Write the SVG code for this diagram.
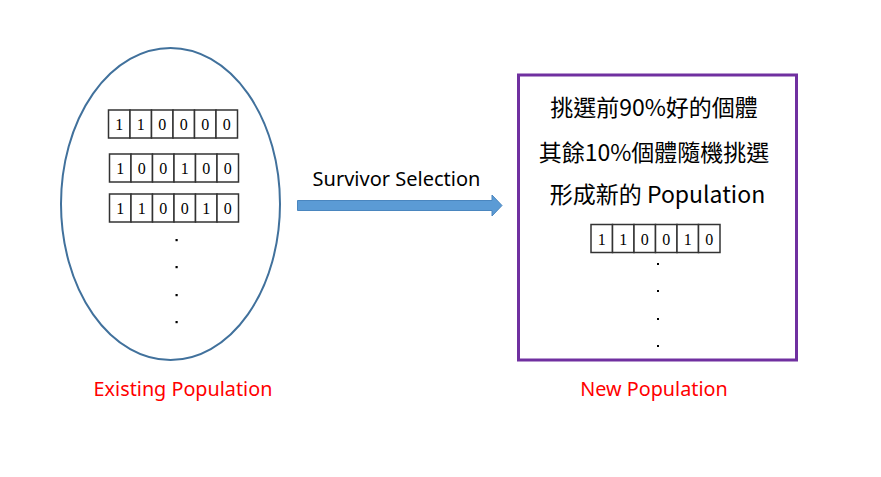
<svg xmlns="http://www.w3.org/2000/svg" width="881" height="477" viewBox="0 0 881 477">
<style>
.cell{fill:#fff;stroke:#333;stroke-width:1.5}
.bit{font-family:"Liberation Serif",serif;font-size:16px;fill:#000;text-anchor:middle}
.dot{fill:#000}
.lbl{font-family:"Noto Sans","Open Sans",sans-serif;font-size:19.8px;fill:#ff0000;text-anchor:middle}
.cjk{font-family:"Noto Sans CJK TC","Noto Sans",sans-serif;font-size:23px;fill:#000;text-anchor:middle}
</style>
<defs>
<g id="cells">
<rect class="cell" x="0" y="0" width="21.5" height="28"/>
<rect class="cell" x="21.5" y="0" width="21.5" height="28"/>
<rect class="cell" x="43" y="0" width="21.5" height="28"/>
<rect class="cell" x="64.5" y="0" width="21.5" height="28"/>
<rect class="cell" x="86" y="0" width="21.5" height="28"/>
<rect class="cell" x="107.5" y="0" width="21.5" height="28"/>
</g>
</defs>
<rect width="881" height="477" fill="#fff"/>
<g id="existing">
<ellipse cx="170.5" cy="204" rx="109.5" ry="156" fill="#fff" stroke="#41719c" stroke-width="2"/>
<g transform="translate(108.5,110)">
<use href="#cells"/>
<text class="bit" y="20"><tspan x="10.75">1</tspan><tspan x="32.25">1</tspan><tspan x="53.75">0</tspan><tspan x="75.25">0</tspan><tspan x="96.75">0</tspan><tspan x="118.25">0</tspan></text>
</g>
<g transform="translate(109.5,154)">
<use href="#cells"/>
<text class="bit" y="20"><tspan x="10.75">1</tspan><tspan x="32.25">0</tspan><tspan x="53.75">0</tspan><tspan x="75.25">1</tspan><tspan x="96.75">0</tspan><tspan x="118.25">0</tspan></text>
</g>
<g transform="translate(109.5,194)">
<use href="#cells"/>
<text class="bit" y="20"><tspan x="10.75">1</tspan><tspan x="32.25">1</tspan><tspan x="53.75">0</tspan><tspan x="75.25">0</tspan><tspan x="96.75">1</tspan><tspan x="118.25">0</tspan></text>
</g>
<rect class="dot" x="175.5" y="239" width="2.2" height="2.2"/>
<rect class="dot" x="175.5" y="266" width="2.2" height="2.2"/>
<rect class="dot" x="175.5" y="294" width="2.2" height="2.2"/>
<rect class="dot" x="175.5" y="321" width="2.2" height="2.2"/>
<text class="lbl" x="183" y="396">Existing Population</text>
</g>
<g id="connectors">
<polygon points="297.5,200.5 492,200.5 492,195 502,205.5 492,216 492,210.5 297.5,210.5" fill="#5b9bd5" stroke="#4a86bf" stroke-width="1"/>
<text x="396.5" y="186" font-family="Noto Sans,Open Sans,sans-serif" font-size="20px" fill="#000" text-anchor="middle">Survivor Selection</text>
</g>
<g id="new">
<rect x="518.5" y="75" width="278" height="285" fill="#fff" stroke="#7030a0" stroke-width="3"/>
<text class="cjk" x="654" y="116">挑選前90%好的個體</text>
<text class="cjk" x="654" y="161">其餘10%個體隨機挑選</text>
<text class="cjk" x="657.5" y="203">形成新的 Population</text>
<g transform="translate(591,224.5)">
<use href="#cells"/>
<text class="bit" y="20"><tspan x="10.75">1</tspan><tspan x="32.25">1</tspan><tspan x="53.75">0</tspan><tspan x="75.25">0</tspan><tspan x="96.75">1</tspan><tspan x="118.25">0</tspan></text>
</g>
<rect class="dot" x="657" y="263" width="2" height="2"/>
<rect class="dot" x="657" y="290" width="2" height="2"/>
<rect class="dot" x="657" y="318" width="2" height="2"/>
<rect class="dot" x="657" y="345" width="2" height="2"/>
<text class="lbl" x="654" y="396">New Population</text>
</g>
</svg>
